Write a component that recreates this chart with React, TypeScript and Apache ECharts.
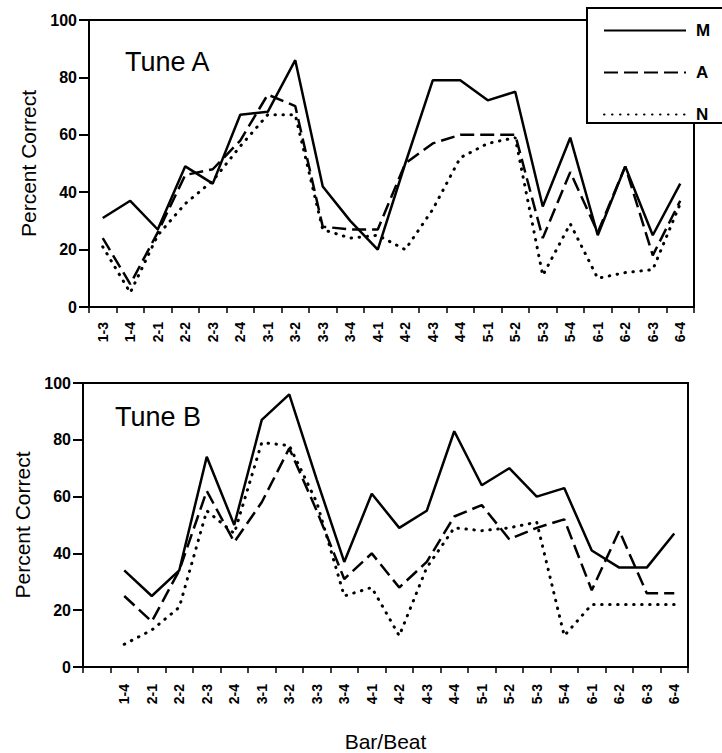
import React, { useEffect, useRef } from 'react';
import * as echarts from 'echarts';

const topCategories = ['1-3', '1-4', '2-1', '2-2', '2-3', '2-4', '3-1', '3-2', '3-3', '3-4', '4-1', '4-2', '4-3', '4-4', '5-1', '5-2', '5-3', '5-4', '6-1', '6-2', '6-3', '6-4'];
const bottomCategories = ['', '1-4', '2-1', '2-2', '2-3', '2-4', '3-1', '3-2', '3-3', '3-4', '4-1', '4-2', '4-3', '4-4', '5-1', '5-2', '5-3', '5-4', '6-1', '6-2', '6-3', '6-4'];

const tuneA_M = [31, 37, 27, 49, 43, 67, 68, 86, 42, 30, 20, 50, 79, 79, 72, 75, 35, 59, 25, 49, 25, 43];
const tuneA_A = [24, 8, 26, 46, 48, 58, 74, 70, 28, 27, 27, 50, 57, 60, 60, 60, 24, 47, 26, 49, 18, 37];
const tuneA_N = [21, 5, 25, 36, 44, 56, 67, 67, 27, 24, 25, 20, 34, 52, 57, 59, 11, 29, 10, 12, 13, 36];

const tuneB_M = [null, 34, 25, 34, 74, 50, 87, 96, 66, 37, 61, 49, 55, 83, 64, 70, 60, 63, 41, 35, 35, 47];
const tuneB_A = [null, 25, 16, 34, 62, 44, 58, 77, 55, 31, 40, 28, 37, 53, 57, 45, 49, 52, 27, 48, 26, 26];
const tuneB_N = [null, 8, 13, 21, 55, 47, 79, 78, 58, 25, 28, 11, 35, 49, 48, 49, 51, 11, 22, 22, 22, 22];

const yTicks = [0, 20, 40, 60, 80, 100];
const FONT = '"Liberation Sans", Arial, Helvetica, sans-serif';

const lineStyles: Record<string, any> = {
  M: { color: '#000', width: 2.5, type: 'solid' },
  A: { color: '#000', width: 2.5, type: [14, 6] },
  N: { color: '#000', width: 3, type: [0.5, 7.5], cap: 'round' },
};

function makeSeries(name: string, data: (number | null)[], idx: number) {
  return {
    type: 'line',
    name,
    data: data.map((v) => (v === null ? '-' : v)),
    xAxisIndex: idx,
    yAxisIndex: idx,
    symbol: 'none',
    showSymbol: false,
    connectNulls: false,
    color: '#000',
    itemStyle: { color: '#000' },
    lineStyle: lineStyles[name],
    z: 2,
  };
}

function yAxis(gridIndex: number) {
  return {
    type: 'value',
    gridIndex,
    min: yTicks[0],
    max: yTicks[yTicks.length - 1],
    interval: 20,
    name: 'Percent Correct',
    nameLocation: 'middle',
    nameGap: 50,
    nameTextStyle: { fontSize: 21, color: '#000', fontFamily: FONT },
    axisLine: { show: true, lineStyle: { color: '#000', width: 2 } },
    axisTick: { show: true, length: 10, inside: false, lineStyle: { color: '#000', width: 2 } },
    axisLabel: { color: '#000', fontSize: 16, fontWeight: 'bold', margin: 12, fontFamily: FONT },
    splitLine: { show: false },
  };
}

function xAxis(gridIndex: number, cats: string[], withName: boolean, margin: number) {
  return {
    type: 'category',
    gridIndex,
    data: cats,
    boundaryGap: true,
    name: withName ? 'Bar/Beat' : '',
    nameLocation: 'middle',
    nameGap: 64,
    nameTextStyle: { fontSize: 21, color: '#000', fontFamily: FONT },
    axisLine: { show: true, lineStyle: { color: '#000', width: 2 } },
    axisTick: { show: true, length: 6, alignWithLabel: false, interval: 0, lineStyle: { color: '#000', width: 1.5 } },
    axisLabel: { color: '#000', fontSize: 14, fontWeight: 'bold', rotate: 90, interval: 0, margin, fontFamily: FONT },
    splitLine: { show: false },
  };
}

export default function App() {
  const ref = useRef<HTMLDivElement>(null);
  useEffect(() => {
    document.body.style.margin = '0';
    const chart = echarts.init(ref.current!, null, { renderer: 'svg' });
    const option: any = {
      animation: false,
      backgroundColor: '#fff',
      textStyle: { fontFamily: FONT, color: '#000' },
      title: [
        { text: 'Tune A', left: 125, top: 48, padding: 0, textStyle: { fontSize: 27, fontWeight: 'normal', color: '#000', fontFamily: FONT } },
        { text: 'Tune B', left: 115, top: 403, padding: 0, textStyle: { fontSize: 27, fontWeight: 'normal', color: '#000', fontFamily: FONT } },
      ],
      grid: [
        { left: 89, top: 20, width: 605, height: 287, show: true, borderColor: '#000', borderWidth: 2, backgroundColor: 'transparent' },
        { left: 83, top: 383, width: 605, height: 287, show: true, borderColor: '#000', borderWidth: 2, backgroundColor: 'transparent' },
      ],
      xAxis: [xAxis(0, topCategories, false, 15), xAxis(1, bottomCategories, true, 17)],
      yAxis: [yAxis(0), yAxis(1)],
      graphic: [
        {
          type: 'rect',
          z: 3,
          shape: { x: 587, y: 8, width: 160, height: 115 },
          style: { fill: '#fff', stroke: '#000', lineWidth: 2 },
        },
      ],
      legend: {
        z: 5,
        orient: 'vertical',
        left: 603,
        top: 22,
        padding: 0,
        itemWidth: 82,
        itemHeight: 14,
        itemGap: 25,
        data: ['M', 'A', 'N'],
        itemStyle: { opacity: 0 },
        textStyle: { fontSize: 17, fontWeight: 'bold', color: '#000', fontFamily: FONT, padding: [0, 0, 0, 5] },
      },
      series: [
        makeSeries('M', tuneA_M, 0),
        makeSeries('A', tuneA_A, 0),
        makeSeries('N', tuneA_N, 0),
        makeSeries('M', tuneB_M, 1),
        makeSeries('A', tuneB_A, 1),
        makeSeries('N', tuneB_N, 1),
      ],
    };
    chart.setOption(option);
    return () => chart.dispose();
  }, []);
  return <div ref={ref} style={{ width: 722, height: 753 }} />;
}
